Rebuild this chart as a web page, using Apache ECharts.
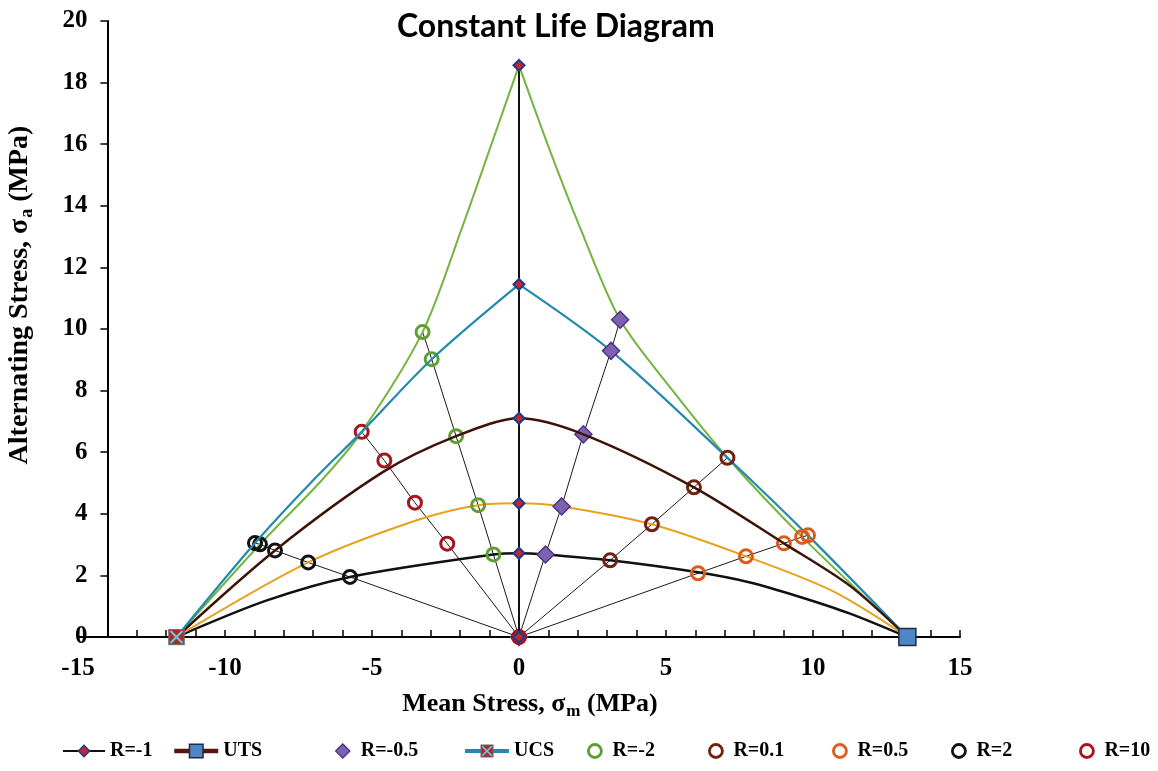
<!DOCTYPE html>
<html>
<head>
<meta charset="utf-8">
<title>Constant Life Diagram</title>
<script src="https://cdn.jsdelivr.net/npm/echarts@6/dist/echarts.min.js"></script>
<style>
  html, body { margin: 0; padding: 0; background: #fff; }
  #chart { width: 1158px; height: 771px; }
</style>
</head>
<body>
<div id="chart"></div>
<script>
// points, [mean stress, alternating stress] in MPa
const ucsPoint = [-11.65, 0]
const utsPoint = [13.21, 0]
const peakR1 = [0, 18.56]

// loading ratios (markers)
const rMinus1 = [[0, 0], [0, 2.72], [0, 4.34], [0, 7.10], [0, 11.45], peakR1]
const rMinus05 = [[0, 0], [0.90, 2.68], [1.45, 4.24], [2.19, 6.58], [3.13, 9.29], [3.44, 10.30]]
const rMinus2 = [[-0.87, 2.68], [-1.39, 4.28], [-2.14, 6.52], [-2.97, 9.02], [-3.28, 9.90]]
const r01 = [[3.10, 2.49], [4.52, 3.66], [5.95, 4.86], [7.09, 5.82]]
const r05 = [[6.09, 2.07], [7.72, 2.62], [9.01, 3.04], [9.63, 3.25], [9.83, 3.30]]
const r2 = [[-5.75, 1.95], [-7.17, 2.42], [-8.30, 2.81], [-8.81, 3.01], [-8.98, 3.05]]
const r10 = [[0, 0], [-2.44, 3.03], [-3.54, 4.36], [-4.58, 5.73], [-5.35, 6.66]]

// constant life curves, UCS -> UTS
const curveLow = [ucsPoint, [-8.60, 1.18], [-5.75, 1.95], [-0.87, 2.68], [0, 2.72], [0.90, 2.68], [3.10, 2.49], [6.09, 2.10], [7.86, 1.77], [9.56, 1.30], [11.26, 0.76], utsPoint]
const curveMid = [ucsPoint, [-7.17, 2.42], [-3.48, 3.79], [-1.39, 4.28], [0, 4.34], [1.45, 4.24], [4.52, 3.66], [7.72, 2.62], [10.69, 1.48], utsPoint]
const curveUTS = [ucsPoint, [-8.30, 2.81], [-4.62, 5.36], [-2.14, 6.52], [0, 7.10], [2.19, 6.58], [5.95, 4.86], [9.01, 3.04], [11.26, 1.66], utsPoint]
const curveUCSLeft = [ucsPoint, [-8.98, 3.05], [-7.00, 5.09], [-5.35, 6.66], [-2.97, 9.02], [0, 11.45]]
const curveUCSRight = [[0, 11.45], [3.13, 9.29], [7.09, 5.82], [9.83, 3.30], utsPoint]
const curveTopLeft = [ucsPoint, [-8.81, 3.01], [-6.71, 5.09], [-5.35, 6.66], [-3.28, 9.90], [-1.93, 13.31], [-1.01, 15.80], peakR1]
const curveTopRight = [peakR1, [1.05, 15.80], [2.07, 13.31], [3.44, 10.30], [5.27, 7.95], [7.09, 5.82], [9.63, 3.25], utsPoint]

const serif = "'Liberation Serif', 'Times New Roman', serif"
const ucsIcon = 'image://data:image/svg+xml;utf8,' + encodeURIComponent(
  '<svg xmlns="http://www.w3.org/2000/svg" width="20" height="20">' +
  '<rect x="1" y="1" width="18" height="18" fill="#b3262a" stroke="#6f6f6f" stroke-width="1.5"/>' +
  '<path d="M3 3L17 17M17 3L3 17" stroke="#62cde6" stroke-width="2.4"/></svg>')

const ray = pts => ({
  type: 'line', data: [[0, 0]].concat(pts), symbol: 'none',
  lineStyle: { color: '#1a1a1a', width: 1 }, silent: true, z: 1
})

const curve = (name, pts, color, width) => ({
  name, type: 'line', data: pts, symbol: 'none', smooth: 0.3,
  lineStyle: { color, width }, itemStyle: { color }, silent: true, z: 2
})

// only the end point of a curve gets a marker
const endMarker = (pts, keep) => pts.map(p => p === keep ? { value: p } : { value: p, symbol: 'none' })

const rings = (name, pts, color) => ({
  name, type: 'scatter', data: pts, symbol: 'circle', symbolSize: 13,
  itemStyle: { color: 'rgba(255,255,255,0)', borderColor: color, borderWidth: 3, opacity: 1 }, z: 6
})

const series = [
  ray(rMinus05), ray(rMinus2), ray(r01), ray(r05), ray(r2), ray(r10),
  curve('low', curveLow, '#111111', 2.5),
  curve('mid', curveMid, '#e9a11c', 2),
  curve('topL', curveTopLeft, '#74b43f', 2),
  curve('topR', curveTopRight, '#74b43f', 2),
  curve('ucsR', curveUCSRight, '#2389ad', 2.2),
  {
    name: 'UCS', type: 'line', data: endMarker(curveUCSLeft, ucsPoint), smooth: 0.3,
    symbol: ucsIcon, symbolSize: 17,
    lineStyle: { color: '#2389ad', width: 2.2 }, itemStyle: { color: '#b3262a' }, z: 8
  },
  {
    name: 'UTS', type: 'line', data: endMarker(curveUTS, utsPoint), smooth: 0.3,
    symbol: 'rect', symbolSize: 17,
    lineStyle: { color: '#3d1207', width: 2.5 },
    itemStyle: { color: '#4f86c6', borderColor: '#1c2b4a', borderWidth: 1.5 }, z: 7
  },
  {
    name: 'R=-1', type: 'line', data: rMinus1, symbol: 'diamond', symbolSize: 11,
    lineStyle: { color: '#111111', width: 2 },
    itemStyle: { color: '#c0282d', borderColor: '#1f3a8a', borderWidth: 2 }, z: 9
  },
  {
    name: 'R=-0.5', type: 'scatter', data: rMinus05, symbol: 'diamond', symbolSize: 17,
    itemStyle: { color: '#7e62b0', borderColor: '#4b3585', borderWidth: 1.5, opacity: 1 }, z: 6
  },
  rings('R=-2', rMinus2, '#5f9e35'),
  rings('R=0.1', r01, '#6e220f'),
  rings('R=0.5', r05, '#dd5a18'),
  rings('R=2', r2, '#111111'),
  rings('R=10', r10, '#a8141a')
]

// one legend per entry so each sits where it does in the original
const legendItems = [
  ['R=-1', 62, 42, 14, { width: 2, color: '#111' }, { color: '#c0282d', borderColor: '#1f3a8a', borderWidth: 1.5 }, 0],
  ['UTS', 172, 44, 17, { width: 4.5, color: '#5a1410' }, { color: '#4f86c6', borderColor: '#1c2b4a', borderWidth: 1.5 }, 0],
  ['R=-0.5', 335, 14, 14, null, { borderWidth: 1.5 }, 6],
  ['UCS', 463, 44, 17, { width: 4, color: '#2389ad' }, null, 0],
  ['R=-2', 587, 13, 13, null, { borderWidth: 2.8 }, 6],
  ['R=0.1', 708, 13, 13, null, { borderWidth: 2.8 }, 6],
  ['R=0.5', 832, 13, 13, null, { borderWidth: 2.8 }, 6],
  ['R=2', 951, 13, 13, null, { borderWidth: 2.8 }, 6],
  ['R=10', 1079, 13, 13, null, { borderWidth: 2.8 }, 6]
]
const legends = legendItems.map(([name, left, w, h, line, item, pad]) => {
  const lg = {
    data: [name], left, top: 741, padding: 0, itemWidth: w, itemHeight: h,
    selectedMode: false,
    textStyle: { fontFamily: serif, fontWeight: 'bold', fontSize: 20, color: '#000', padding: [0, 0, 0, pad] }
  }
  if (line) lg.lineStyle = line
  if (item) lg.itemStyle = item
  return lg
})

const richFor = size => ({
  t: { fontFamily: serif, fontWeight: 'bold', fontSize: size, color: '#000' },
  s: { fontFamily: serif, fontWeight: 'bold', fontSize: Math.round(size * 0.65), color: '#000', padding: [Math.round(size * 0.55), 0, 0, 1] }
})

const chart = echarts.init(document.getElementById('chart'))
chart.setOption({
  animation: false,
  backgroundColor: '#fff',
  title: {
    text: 'Constant Life Diagram', left: 397, top: 11, padding: 0,
    textStyle: { fontFamily: 'Lato', fontWeight: 'bold', fontSize: 32, color: '#000' }
  },
  legend: legends,
  grid: { left: 78, right: 198, top: 21, bottom: 134, outerBoundsMode: 'none' },
  xAxis: {
    type: 'value', min: -15, max: 15, interval: 1,
    axisLine: { lineStyle: { color: '#000', width: 2 } },
    axisTick: { inside: true, length: 7, lineStyle: { color: '#000', width: 1.5 } },
    splitLine: { show: false },
    axisLabel: {
      margin: 19, color: '#000', fontFamily: serif, fontWeight: 'bold', fontSize: 25,
      formatter: v => (v % 5 === 0 ? String(v) : '')
    },
    name: '{t|Mean Stress, σ}{s|m}{t| (MPa)}',
    nameLocation: 'middle', nameGap: 52,
    nameTextStyle: { padding: [0, 0, 0, 22], rich: richFor(26) }
  },
  yAxis: {
    type: 'value', min: 0, max: 20, interval: 2,
    offset: -29.4,
    axisLine: { onZero: false, lineStyle: { color: '#000', width: 2 } },
    axisTick: { length: 7, lineStyle: { color: '#000', width: 1.5 } },
    splitLine: { show: false },
    axisLabel: { margin: 20, color: '#000', fontFamily: serif, fontWeight: 'bold', fontSize: 25 },
    name: '{t|Alternating Stress, σ}{s|a}{t| (MPa)}',
    nameLocation: 'middle', nameGap: 71,
    nameTextStyle: { padding: [0, 0, 0, 68], rich: richFor(28) }
  },
  series
})
</script>
</body>
</html>
